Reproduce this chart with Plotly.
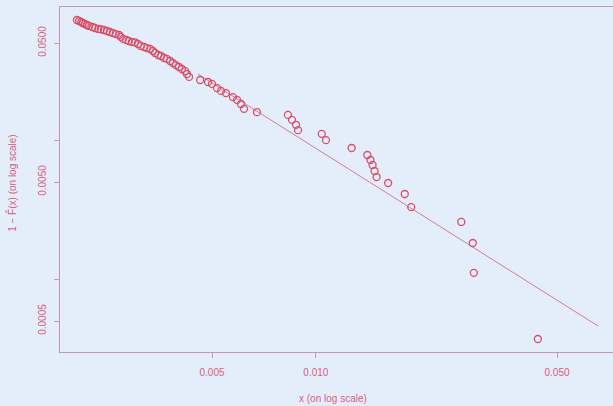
import plotly.graph_objects as go

# Observed values (x, estimated density) on log-log axes
x_obs = [0.00203, 0.00206, 0.00209, 0.00211, 0.00214, 0.00217, 0.00220, 0.00225,
         0.00229, 0.00234, 0.00238, 0.00243, 0.00248, 0.00253, 0.00258, 0.00263,
         0.00269, 0.00272, 0.00276, 0.00282, 0.00287, 0.00293, 0.00299, 0.00305,
         0.00311, 0.00318, 0.00324, 0.00331, 0.00337, 0.00342, 0.00349, 0.00356,
         0.00363, 0.00370, 0.00378, 0.00385, 0.00393, 0.00401, 0.00409, 0.00418,
         0.00423, 0.00429, 0.00462, 0.00487, 0.00500, 0.00517, 0.00531, 0.00549,
         0.00575, 0.00591, 0.00607, 0.00619, 0.00675, 0.00830, 0.00853, 0.00876,
         0.00888, 0.0104, 0.0107, 0.0127, 0.0141, 0.0144, 0.0146, 0.0148,
         0.0150, 0.0162, 0.0181, 0.0189, 0.0264, 0.0285, 0.0287, 0.0440]
y_obs = [0.0732, 0.0720, 0.0708, 0.0696, 0.0685, 0.0674, 0.0663, 0.0652,
         0.0641, 0.0631, 0.0628, 0.0620, 0.0610, 0.0600, 0.0590, 0.0580,
         0.0571, 0.0553, 0.0535, 0.0526, 0.0517, 0.0508, 0.0506, 0.0492,
         0.0476, 0.0468, 0.0460, 0.0453, 0.0438, 0.0424, 0.0410, 0.0403,
         0.0390, 0.0384, 0.0371, 0.0359, 0.0347, 0.0336, 0.0325, 0.0314,
         0.0299, 0.0285, 0.0271, 0.0262, 0.0254, 0.0237, 0.0226, 0.0218,
         0.0204, 0.0195, 0.0182, 0.0168, 0.0159, 0.0152, 0.0140, 0.0129,
         0.0118, 0.0111, 0.0100, 0.00878, 0.00782, 0.00720, 0.00663, 0.00600,
         0.00543, 0.00492, 0.00410, 0.00330, 0.00258, 0.00182, 0.00111, 0.000371]

# Fitted power-law line (end points)
fit_x = [0.00455, 0.0658]
fit_y = [0.0299, 0.00046]

# Axis ticks
x_ticks = [0.005, 0.010, 0.050]
x_tick_text = ["0.005", "0.010", "0.050"]
y_ticks = [0.0005, 0.001, 0.005, 0.01, 0.05]
y_tick_text = ["0.0005", "", "0.0050", "", "0.0500"]

RED = "rgb(216,78,104)"
AXIS = "rgb(200,150,172)"
TXT = "rgb(216,96,122)"
BG = "rgb(228,238,250)"
FONT = "Liberation Sans, Arial, sans-serif"

fig = go.Figure()
fig.add_trace(go.Scatter(
    x=fit_x, y=fit_y, mode="lines",
    line=dict(color="rgb(210,125,148)", width=1),
    hoverinfo="skip", showlegend=False))
fig.add_trace(go.Scatter(
    x=x_obs, y=y_obs, mode="markers",
    marker=dict(symbol="circle-open", size=7, color=RED, line=dict(width=1.3, color=RED)),
    showlegend=False))

fig.update_layout(
    width=613, height=406,
    margin=dict(l=60, r=0, t=7, b=54),
    paper_bgcolor=BG, plot_bgcolor=BG,
    font=dict(family=FONT, size=10, color=TXT),
    xaxis=dict(type="log", range=[-2.7416, -1.1387],
               tickvals=x_ticks, ticktext=x_tick_text,
               ticks="outside", ticklen=5, tickcolor=AXIS, tickwidth=1,
               showline=True, mirror=True, linecolor=AXIS, linewidth=1,
               showgrid=False, zeroline=False, ticklabelstandoff=6,
               tickfont=dict(size=10, color=TXT)),
    yaxis=dict(type="log", range=[-3.524, -1.042],
               tickvals=y_ticks, ticktext=y_tick_text, tickangle=-90,
               ticks="outside", ticklen=5, tickcolor=AXIS, tickwidth=1,
               showline=True, mirror=False, linecolor=AXIS, linewidth=1,
               showgrid=False, zeroline=False, ticklabelstandoff=4,
               tickfont=dict(size=10, color=TXT)),
    annotations=[
        dict(text="x (on log scale)", xref="paper", yref="paper",
             x=0.494, y=-0.136, showarrow=False,
             xanchor="center", yanchor="middle",
             font=dict(size=10, color=TXT, family=FONT)),
        dict(text="1 \u2212 F\u0302(x) (on log scale)", xref="paper", yref="paper",
             x=-0.087, y=0.49, showarrow=False, textangle=-90,
             xanchor="center", yanchor="middle",
             font=dict(size=10, color=TXT, family=FONT)),
    ],
)

fig.write_html("out.html")
